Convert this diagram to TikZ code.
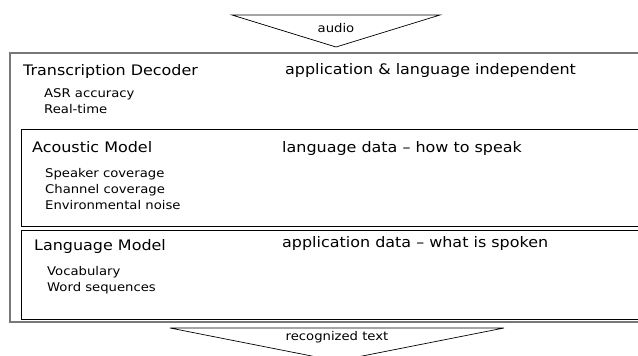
\documentclass[tikz,border=0pt]{standalone}
\usepackage{fontspec}
\setmainfont{DejaVu Sans}[FakeStretch=1.1]
\definecolor{framegray}{RGB}{120,120,120}
\tikzset{
  title/.style={anchor=base west, inner sep=0pt, font=\fontsize{14.5}{17}\selectfont},
  item/.style={anchor=base west, inner sep=0pt, align=left, font=\fontsize{12}{16}\selectfont},
  flow/.style={inner sep=0pt, anchor=base, font=\fontsize{12}{14}\selectfont},
}
\begin{document}
\begin{tikzpicture}[x=1pt,y=-1pt]
    \useasboundingbox (0,0) rectangle (638,356);
    \clip (0,0) rectangle (638,356);

    \draw[line width=0.7pt] (232,15) -- (440,15) -- (336,47) -- cycle;
    \node[flow] (audio) at (336,32) {audio};

    \draw[framegray, line width=1.4pt] (10,53) rectangle (650,322);
    \node[title] (decoder) at (23,75) {Transcription Decoder};
    \node[title] (decoderrole) at (285,74) {application \& language independent};
    \node[item] (decoderitems) at (44,113) {ASR accuracy\\Real-time};

    \draw[line width=0.8pt] (21,129) rectangle (650,226);
    \node[title] (acoustic) at (32,152) {Acoustic Model};
    \node[title] (acousticrole) at (282,152) {language data -- how to speak};
    \node[item] (acousticitems) at (45,209) {Speaker coverage\\Channel coverage\\Environmental noise};

    \draw[line width=0.8pt] (21,230) rectangle (650,319);
    \node[title] (language) at (34,250) {Language Model};
    \node[title] (languagerole) at (282,247) {application data -- what is spoken};
    \node[item] (languageitems) at (47,291) {Vocabulary\\Word sequences};

    \draw[line width=0.7pt] (170,328) -- (504,328) -- (337,361) -- cycle;
    \node[flow] (recognized) at (337,340) {recognized text};
\end{tikzpicture}
\end{document}
